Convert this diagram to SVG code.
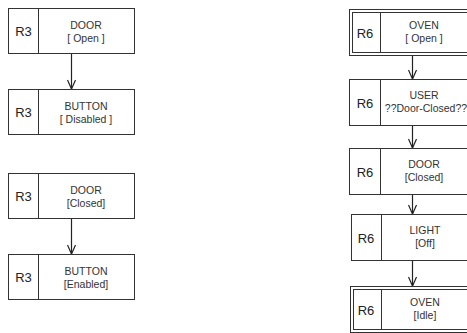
<svg xmlns="http://www.w3.org/2000/svg" width="467" height="333" viewBox="0 0 467 333">
<style>
  .box { fill: #fff; stroke: #333; stroke-width: 1; }
  .div { stroke: #333; stroke-width: 1; }
  .lbl { font-family: "Liberation Sans", Arial, sans-serif; font-size: 13px; fill: #222; text-anchor: middle; }
  .t { font-family: "Liberation Sans", Arial, sans-serif; font-size: 10.5px; fill: #333; text-anchor: middle; }
  .edge { stroke: #222; stroke-width: 1.2; fill: none; marker-end: url(#arr); }
</style>
<defs>
  <marker id="arr" viewBox="0 0 10 10" refX="10" refY="5" markerWidth="10" markerHeight="10" markerUnits="userSpaceOnUse" orient="auto">
    <path d="M1,1 L10,5 L1,9" fill="none" stroke="#222" stroke-width="1.2"/>
  </marker>
</defs>
<rect width="467" height="333" fill="#fff"/>
<g id="connectors">
  <line class="edge" x1="71.5" y1="53" x2="71.5" y2="89"/>
  <line class="edge" x1="71.5" y1="218" x2="71.5" y2="254"/>
  <line class="edge" x1="412.5" y1="55" x2="412.5" y2="79"/>
  <line class="edge" x1="412.5" y1="125" x2="412.5" y2="148"/>
  <line class="edge" x1="412.5" y1="194" x2="412.5" y2="214"/>
  <line class="edge" x1="412.5" y1="260" x2="412.5" y2="286"/>
</g>
<g id="n_door_open">
  <rect class="box" x="8.5" y="8.5" width="126" height="45"/>
  <line class="div" x1="38.5" y1="8.5" x2="38.5" y2="53.5"/>
  <text class="lbl" x="23.5" y="36">R3</text>
  <text class="t" x="86" y="28.5">DOOR</text>
  <text class="t" x="86" y="41.5">[ Open ]</text>
</g>
<g id="n_button_disabled">
  <rect class="box" x="8.5" y="89.5" width="126" height="45"/>
  <line class="div" x1="38.5" y1="89.5" x2="38.5" y2="134.5"/>
  <text class="lbl" x="23.5" y="117">R3</text>
  <text class="t" x="86" y="109.5">BUTTON</text>
  <text class="t" x="86" y="122.5">[ Disabled ]</text>
</g>
<g id="n_door_closed">
  <rect class="box" x="8.5" y="173.5" width="126" height="45"/>
  <line class="div" x1="38.5" y1="173.5" x2="38.5" y2="218.5"/>
  <text class="lbl" x="23.5" y="201">R3</text>
  <text class="t" x="86" y="193.5">DOOR</text>
  <text class="t" x="86" y="206.5">[Closed]</text>
</g>
<g id="n_button_enabled">
  <rect class="box" x="8.5" y="254.5" width="126" height="45"/>
  <line class="div" x1="38.5" y1="254.5" x2="38.5" y2="299.5"/>
  <text class="lbl" x="23.5" y="282">R3</text>
  <text class="t" x="86" y="274.5">BUTTON</text>
  <text class="t" x="86" y="287.5">[Enabled]</text>
</g>
<g id="n_oven_open">
  <rect class="box" x="349.5" y="9.5" width="125" height="46"/>
  <rect class="box" x="352.5" y="12.5" width="119" height="40"/>
  <line class="div" x1="380.5" y1="12.5" x2="380.5" y2="52.5"/>
  <text class="lbl" x="365" y="37.5">R6</text>
  <text class="t" x="424" y="29">OVEN</text>
  <text class="t" x="424" y="42">[ Open ]</text>
</g>
<g id="n_user">
  <rect class="box" x="349.5" y="79.5" width="125" height="46"/>
  <line class="div" x1="380.5" y1="79.5" x2="380.5" y2="125.5"/>
  <text class="lbl" x="365" y="107.5">R6</text>
  <text class="t" x="424" y="99">USER</text>
  <text class="t" x="426" y="112">??Door-Closed??</text>
</g>
<g id="n_door_closed_r">
  <rect class="box" x="349.5" y="148.5" width="125" height="46"/>
  <line class="div" x1="380.5" y1="148.5" x2="380.5" y2="194.5"/>
  <text class="lbl" x="365" y="176.5">R6</text>
  <text class="t" x="424" y="168">DOOR</text>
  <text class="t" x="424" y="181">[Closed]</text>
</g>
<g id="n_light_off">
  <rect class="box" x="351.5" y="214.5" width="125" height="46"/>
  <line class="div" x1="381.5" y1="214.5" x2="381.5" y2="260.5"/>
  <text class="lbl" x="366" y="242.5">R6</text>
  <text class="t" x="425" y="234">LIGHT</text>
  <text class="t" x="425" y="247">[Off]</text>
</g>
<g id="n_oven_idle">
  <rect class="box" x="350.5" y="286.5" width="125" height="46"/>
  <rect class="box" x="353.5" y="289.5" width="119" height="40"/>
  <line class="div" x1="381.5" y1="289.5" x2="381.5" y2="329.5"/>
  <text class="lbl" x="366" y="314.5">R6</text>
  <text class="t" x="425" y="306">OVEN</text>
  <text class="t" x="425" y="319">[Idle]</text>
</g>
</svg>
